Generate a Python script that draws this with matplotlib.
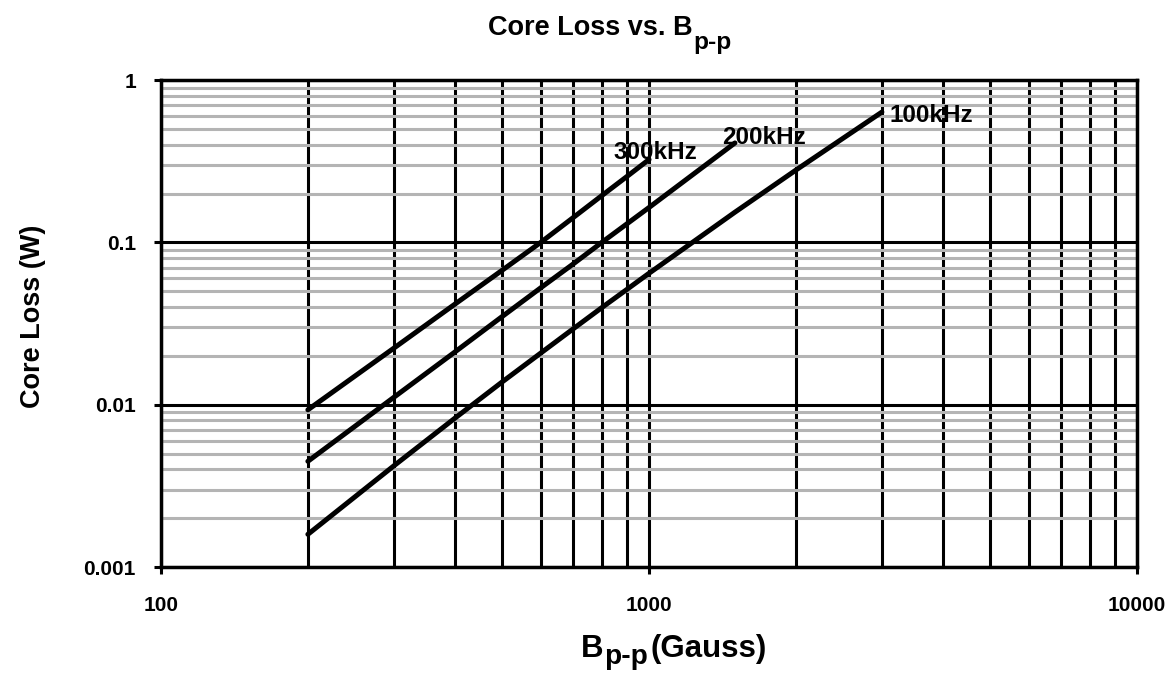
import numpy as np
import matplotlib.pyplot as plt
from matplotlib.ticker import LogLocator, NullFormatter, FixedLocator

plt.rcParams['font.family'] = ['Liberation Sans', 'DejaVu Sans']
plt.rcParams['font.weight'] = 'bold'

# curvas de perda no nucleo
b_300k = [200, 300, 400, 500, 600, 700, 800, 900, 1000]
p_300k = [0.0093, 0.0223, 0.0416, 0.0673, 0.100, 0.1425, 0.194, 0.254, 0.324]

b_200k = [200, 300, 400, 500, 600, 700, 800, 1000, 1500]
p_200k = [0.00448, 0.0111, 0.0211, 0.0349, 0.0525, 0.0738, 0.0999, 0.164, 0.41]

b_100k = [200, 300, 400, 500, 600, 700, 800, 900, 1000, 1500, 2000, 3000]
p_100k = [0.00159, 0.0042, 0.00825, 0.0138, 0.0208, 0.0294, 0.0396, 0.0512,
          0.0645, 0.1535, 0.279, 0.635]

curvas = [
    (b_300k, p_300k, '300kHz', (-25.5, 0.7)),
    (b_200k, p_200k, '200kHz', (-9, -0.7)),
    (b_100k, p_100k, '100kHz', (5.8, -6.8)),
]

x_ticks = [100, 1000, 10000]
x_ticklabels = ['100', '1000', '10000']
y_ticks = [0.001, 0.01, 0.1, 1]
y_ticklabels = ['0.001', '0.01', '0.1', '1']

fig = plt.figure(figsize=(11.75, 6.73), dpi=100)
ax = fig.add_axes([0.137, 0.1575, 0.8307, 0.7235])

ax.set_xscale('log')
ax.set_yscale('log')
ax.set_xlim(100, 10000)
ax.set_ylim(0.001, 1)

# grade
ax.yaxis.set_minor_locator(LogLocator(base=10, subs=np.arange(2, 10)))
ax.xaxis.set_minor_locator(LogLocator(base=10, subs=np.arange(2, 10)))
ax.xaxis.set_minor_formatter(NullFormatter())
ax.yaxis.set_minor_formatter(NullFormatter())
ax.grid(True, which='minor', axis='y', color='#b4b4b4', linewidth=2.2, zorder=0)
ax.grid(True, which='major', axis='y', color='black', linewidth=2.2, zorder=1)
ax.grid(True, which='both', axis='x', color='black', linewidth=2.2, zorder=1)
ax.set_axisbelow(True)

for s in ax.spines.values():
    s.set_linewidth(2.5)
    s.set_color('black')

ax.xaxis.set_major_locator(FixedLocator(x_ticks))
ax.set_xticklabels(x_ticklabels)
ax.yaxis.set_major_locator(FixedLocator(y_ticks))
ax.set_yticklabels(y_ticklabels)
ax.tick_params(axis='x', which='major', length=5, width=2.2, direction='out', pad=16, labelsize=15)
ax.tick_params(axis='y', which='major', length=5, width=2.2, direction='out', pad=13, labelsize=15)
ax.tick_params(which='minor', length=0)

for bx, py, nome, off in curvas:
    ax.plot(bx, py, color='black', linewidth=3.6, solid_capstyle='round', zorder=3)
    ax.annotate(nome, (bx[-1], py[-1]), xytext=off, textcoords='offset points',
                ha='left', va='baseline', fontsize=17.5, fontweight='bold', zorder=4)


def texto_sub(x, y, antes, sub, depois, tam, desce):
    # texto com subscrito quase do mesmo tamanho, um pouco abaixo
    t1 = fig.text(x, y, antes, ha='left', va='baseline', fontsize=tam, fontweight='bold')
    t2 = fig.add_artist(plt.Annotation(sub, xy=(1, 0), xycoords=t1, xytext=(0.5, -desce),
                                       textcoords='offset points', ha='left', va='bottom',
                                       fontsize=tam * 0.9, fontweight='bold'))
    if depois:
        fig.add_artist(plt.Annotation(depois, xy=(1, 0), xycoords=(t2, t1), xytext=(2, 0),
                                      textcoords='offset points', ha='left', va='bottom',
                                      fontsize=tam, fontweight='bold'))


texto_sub(488 / 1175, 1 - 35 / 673, 'Core Loss vs. B', 'p-p', '', 19.5, 9)
texto_sub(581 / 1175, 1 - 657 / 673, 'B', 'p-p', '(Gauss)', 22.5, 4.5)
ax.set_ylabel('Core Loss (W)', fontsize=19.5, fontweight='bold', labelpad=0)
ax.yaxis.set_label_coords(-0.118, 0.515)

fig.savefig('out.png', dpi=100)
